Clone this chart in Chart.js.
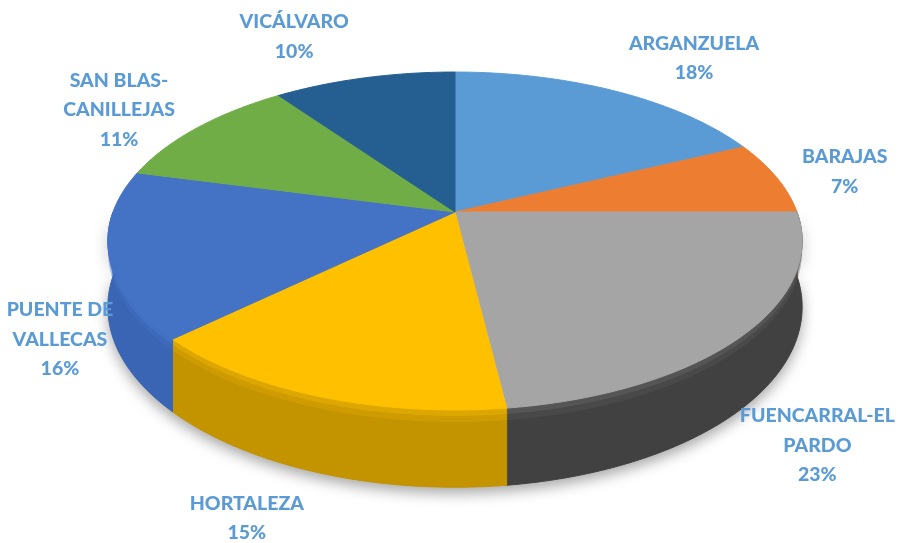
<!DOCTYPE html>
<html>
<head>
<meta charset="utf-8">
<script src="https://cdn.jsdelivr.net/npm/chart.js@4.4.0/dist/chart.umd.min.js"></script>
<style>
    html, body { margin: 0; padding: 0; background: #fff; }
    #wrap { width: 904px; height: 543px; }
</style>
</head>
<body>
<div id="wrap"><canvas id="districtPie"></canvas></div>
<script>
// data
const districts = ['ARGANZUELA', 'BARAJAS', 'FUENCARRAL-EL PARDO', 'HORTALEZA', 'PUENTE DE VALLECAS', 'SAN BLAS-CANILLEJAS', 'VICÁLVARO'];
const labelLines = [['ARGANZUELA'], ['BARAJAS'], ['FUENCARRAL-EL', 'PARDO'], ['HORTALEZA'], ['PUENTE DE', 'VALLECAS'], ['SAN BLAS-', 'CANILLEJAS'], ['VICÁLVARO']];
const shares = [18, 7, 23, 15, 16, 11, 10];

const topColors = ['#5B9BD5', '#ED7D31', '#A5A5A5', '#FFC000', '#4472C4', '#70AD47', '#255E91'];
const sideColors = ['#3F7DB5', '#C25E16', '#414141', '#C49300', '#3A64B4', '#528A2E', '#1B4670'];
const rimColors = ['#6FAEE6', '#F79A55', '#5A5A5A', '#E2AC00', '#4573C6', '#84C35A', '#2E6CA6'];

// fake 3D: Chart.js computes the slice angles, this plugin paints them tilted
const pie3d = {
    id: 'pie3d',
    beforeDatasetsDraw(chart, args, opts) {
        const ctx = chart.ctx;
        const arcs = chart.getDatasetMeta(0).data;

        const proj = (t, drop) => {
            const x = Math.cos(t), z = -Math.sin(t);
            const d = 1 + opts.persp * z;
            return [opts.cx + opts.rx * x / d, opts.cy - opts.ry * z / d + (drop || 0) / d];
        };
        const wall = (a, b, top, bottom) => {
            ctx.beginPath();
            const steps = Math.max(4, Math.ceil((b - a) / 0.01));
            for (let k = 0; k <= steps; k++) {
                const p = proj(a + (b - a) * k / steps, top);
                k === 0 ? ctx.moveTo(p[0], p[1]) : ctx.lineTo(p[0], p[1]);
            }
            for (let k = steps; k >= 0; k--) {
                const p = proj(a + (b - a) * k / steps, bottom);
                ctx.lineTo(p[0], p[1]);
            }
            ctx.closePath();
        };

        ctx.save();

        // soft shadow under the disc
        ctx.shadowColor = 'rgba(0,0,0,0.35)';
        ctx.shadowBlur = 14;
        ctx.shadowOffsetY = 6;
        ctx.fillStyle = '#888';
        wall(0, Math.PI, 0, opts.depth);
        ctx.fill();
        ctx.shadowColor = 'transparent';

        // side walls (front half only), with a soft bevel band at the rim
        arcs.forEach((arc, i) => {
            const a = Math.max(arc.startAngle, 0);
            const b = Math.min(arc.endAngle, Math.PI);
            if (a >= b) return;
            ctx.fillStyle = sideColors[i];
            ctx.strokeStyle = sideColors[i];
            ctx.lineWidth = 1;
            wall(a, b, 0, opts.depth);
            ctx.fill();
            ctx.stroke();
            ctx.fillStyle = rimColors[i];
            ctx.globalAlpha = 0.8;
            wall(a, b, 0, 5);
            ctx.fill();
            ctx.globalAlpha = 0.35;
            wall(a, b, 5, 10);
            ctx.fill();
            ctx.globalAlpha = 1;
        });

        // top faces
        arcs.forEach((arc, i) => {
            const s = arc.startAngle, e = arc.endAngle;
            const steps = Math.max(4, Math.ceil((e - s) / 0.01));
            ctx.beginPath();
            ctx.moveTo(opts.cx, opts.cy);
            for (let k = 0; k <= steps; k++) {
                const p = proj(s + (e - s) * k / steps, 0);
                ctx.lineTo(p[0], p[1]);
            }
            ctx.closePath();
            ctx.fillStyle = topColors[i];
            ctx.fill();
            ctx.strokeStyle = topColors[i];
            ctx.lineWidth = 1;
            ctx.stroke();
        });

        // data labels
        ctx.font = '900 19.5px Lato, "Open Sans", sans-serif';
        ctx.fillStyle = '#5B9BD5';
        ctx.textAlign = 'center';
        ctx.textBaseline = 'middle';
        arcs.forEach((arc, i) => {
            const mid = (arc.startAngle + arc.endAngle) / 2;
            const p = proj(mid, 0);
            const nudge = opts.labelNudge[i];
            const lines = labelLines[i].concat([shares[i] + '%']);
            const x = p[0] + nudge[0];
            const y0 = p[1] + nudge[1] - (lines.length - 1) * opts.lineH / 2;
            lines.forEach((ln, j) => ctx.fillText(ln, x, y0 + j * opts.lineH));
        });

        ctx.restore();
        return false;
    }
};

new Chart(document.getElementById('districtPie'), {
    type: 'pie',
    data: {
        labels: districts,
        datasets: [{
            data: shares,
            backgroundColor: topColors,
            borderWidth: 0
        }]
    },
    options: {
        responsive: true,
        maintainAspectRatio: false,
        animation: false,
        events: [],
        plugins: {
            legend: { display: false },
            tooltip: { enabled: false },
            pie3d: {
                cx: 455, cy: 212, rx: 342, ry: 164, persp: 0.1716, depth: 64, lineH: 29.5,
                labelNudge: [[79, -33], [68, -6], [73, 111], [-70, 122], [-49, 85], [-78, -18], [-70, -41]]
            }
        }
    },
    plugins: [pie3d]
});
</script>
</body>
</html>
